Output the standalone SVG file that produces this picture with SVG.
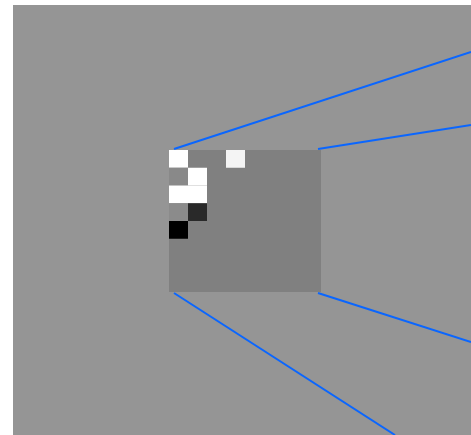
<svg xmlns="http://www.w3.org/2000/svg" width="471" height="435" viewBox="0 0 471 435">
<style>
.c{stroke:#0a66ff;stroke-width:2;fill:none}
</style>
<rect x="0" y="0" width="471" height="435" fill="#ffffff"/>
<rect x="13" y="5" width="458" height="430" fill="#959595"/>
<g id="image">
<rect x="169" y="150" width="152" height="142" fill="#808080"/>
<rect x="169" y="150" width="19" height="17.75" fill="#ffffff"/>
<rect x="226" y="150" width="19" height="17.75" fill="#f4f4f4"/>
<rect x="169" y="167.75" width="19" height="17.75" fill="#898989"/>
<rect x="188" y="167.75" width="19" height="17.75" fill="#ffffff"/>
<rect x="169" y="185.5" width="38" height="17.75" fill="#ffffff"/>
<rect x="169" y="203.25" width="19" height="17.75" fill="#8b8b8b"/>
<rect x="188" y="203.25" width="19" height="17.75" fill="#292929"/>
<rect x="169" y="221" width="19" height="17.75" fill="#000000"/>
</g>
<g id="connectors">
<line class="c" x1="174" y1="149" x2="471" y2="52"/>
<line class="c" x1="318" y1="149" x2="471" y2="125"/>
<line class="c" x1="318" y1="293" x2="471" y2="342"/>
<line class="c" x1="174" y1="293" x2="395" y2="435"/>
</g>
</svg>
